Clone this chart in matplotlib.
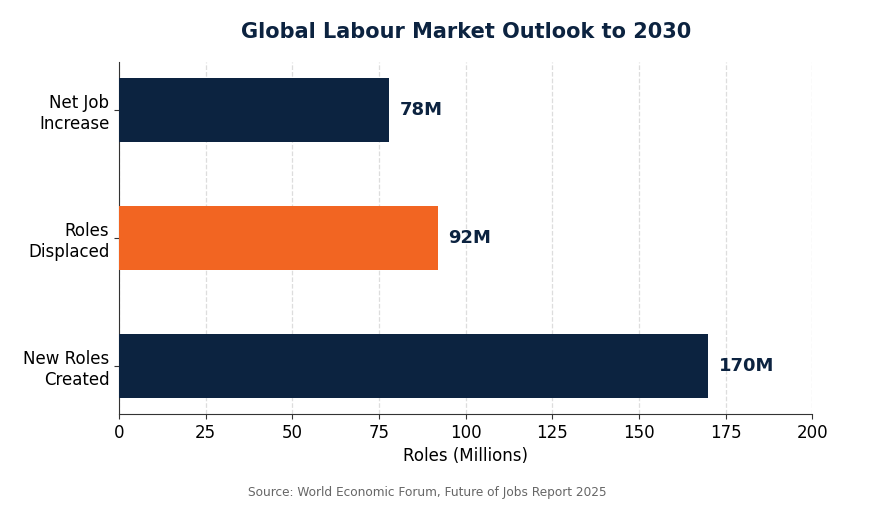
import matplotlib
matplotlib.use("Agg")
import matplotlib.pyplot as plt

categories = ["New Roles\nCreated", "Roles\nDisplaced", "Net Job\nIncrease"]
values = [170, 92, 78]
labels = ["170M", "92M", "78M"]
colors = ["#0c2340", "#f26522", "#0c2340"]

navy = "#0c2340"

fig = plt.figure(figsize=(8.82, 5.07), dpi=100)
ax = fig.add_axes([0.135, 0.183, 0.786, 0.695])

bars = ax.barh(categories, values, height=0.5, color=colors, zorder=3)
for bar, lab in zip(bars, labels):
    ax.text(bar.get_width() + 3, bar.get_y() + bar.get_height() / 2, lab,
            va="center", ha="left", fontsize=13, fontweight="bold", color=navy)

ax.set_xlim(0, 200)
ax.set_xticks(range(0, 201, 25))
ax.tick_params(labelsize=12, color="#333333")
ax.set_xlabel("Roles (Millions)", fontsize=12)
ax.grid(axis="x", linestyle="--", color="#dddddd", linewidth=0.9, zorder=0)
ax.spines["top"].set_visible(False)
ax.spines["right"].set_visible(False)
for side in ("left", "bottom"):
    ax.spines[side].set_color("#333333")

fig.suptitle("Global Labour Market Outlook to 2030", x=0.528, y=0.957,
             fontsize=15, fontweight="bold", color=navy)
fig.text(0.484, 0.022, "Source: World Economic Forum, Future of Jobs Report 2025",
         ha="center", fontsize=8.7, color="#666666")

fig.savefig("out.png", dpi=100)
